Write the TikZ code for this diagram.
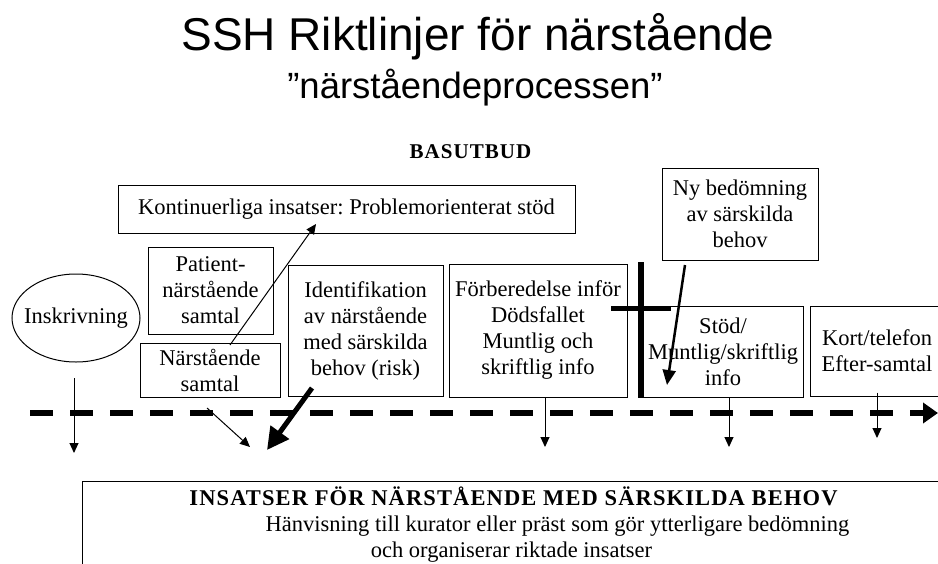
\documentclass[tikz,border=0pt]{standalone}
\usepackage{fontspec}
\setmainfont{Liberation Serif}
\newfontfamily\titlefont{Liberation Sans}
\newfontfamily\capsfont[LetterSpace=5]{Liberation Serif}
\usetikzlibrary{arrows.meta,shapes.geometric}
\newcommand{\bodyfont}{\fontsize{22.5}{26}\selectfont}
\frenchspacing

\begin{document}
\begin{tikzpicture}[x=1pt,y=-1pt]
        \useasboundingbox (0,0) rectangle (938,563);
        \clip (0,0) rectangle (938,563);
        \node[anchor=base] (rubrik) at (478,50) {\titlefont\fontsize{46}{50}\selectfont SSH Riktlinjer för närstående};
        \node[anchor=base] (process) at (475,98) {\titlefont\fontsize{36.5}{40}\selectfont ”närståendeprocessen”};
        \node[anchor=base] (basutbud) at (470.5,158) {\capsfont\bfseries\fontsize{21}{24}\selectfont BASUTBUD};
        \begin{scope}
            \begin{scope}[every node/.style={rectangle,draw,line width=1pt,align=center,inner sep=0pt,font=\bodyfont}]
                \node[minimum width=457pt,minimum height=48pt] (kont) at (346.5,209) {Kontinuerliga insatser: Problemorienterat stöd};
                \node[minimum width=156pt,minimum height=92pt] (ny) at (740,214) {Ny bedömning\\av särskilda\\behov};
                \node[minimum width=125pt,minimum height=87pt] (pat) at (210.5,290.5) {Patient-\\närstående\\samtal};
                \node[minimum width=140pt,minimum height=54pt] (nar) at (210,370) {Närstående\\samtal};
                \node[ellipse,minimum width=128pt,minimum height=88pt] (ins) at (76,318) {\makebox[80pt]{Inskrivning}};
                \node[minimum width=155pt,minimum height=131pt] (iden) at (365.5,330.5) {Identifikation\\av närstående\\med särskilda\\behov (risk)};
                \node[minimum width=178pt,minimum height=133pt] (forb) at (538,330.5) {Förberedelse inför\\Dödsfallet\\Muntlig och\\skriftlig info};
                \node[minimum width=160pt,minimum height=91pt] (stod) at (723,351.5) {Stöd/\\Muntlig/skriftlig\\info};
                \node[minimum width=134pt,minimum height=90pt] (kort) at (877,351) {Kort/telefon\\Efter-samtal};
                \node[anchor=north west,minimum width=900pt,minimum height=140pt] (insbox) at (82,481) {};
            \end{scope}
            \begin{scope}[every node/.style={anchor=base,font=\bodyfont}]
                \node (insrubrik) at (513.5,505) {\capsfont\bfseries INSATSER FÖR NÄRSTÅENDE MED SÄRSKILDA BEHOV};
                \node (hanvisning) at (557.5,531) {Hänvisning till kurator eller präst som gör ytterligare bedömning};
                \node (organiserar) at (511.5,557) {och organiserar riktade insatser};
            \end{scope}
        \end{scope}
        \coordinate (tl0) at (30,413);
        \coordinate (tl1) at (938,413);
        \coordinate (ins1) at (74,378);
        \coordinate (ins2) at (74,453);
        \coordinate (nar1) at (207,408);
        \coordinate (nar2) at (250,447);
        \coordinate (nar3) at (230,345);
        \coordinate (kont1) at (316,224);
        \coordinate (iden1) at (312,388);
        \coordinate (iden2) at (267,450);
        \coordinate (ny1) at (685,265);
        \coordinate (ny2) at (667,385);
        \coordinate (forb1) at (545,447);
        \coordinate (stod1) at (729,447);
        \coordinate (kort1) at (877,438);
        \draw[line width=6pt,dash pattern=on 23pt off 17pt,-{Triangle[length=15pt,width=20pt]}] (tl0) -- (tl1);
        \draw[line width=6pt] (641,262) -- (641,398);
        \draw[line width=5pt] (611,308) -- (671,308);
        \begin{scope}[every edge/.style={draw=black,line width=1pt,-{Triangle[length=10pt,width=9pt]}}]
            \path (ins1) edge (ins2)
                  (nar1) edge (nar2)
                  (nar3) edge (kont1)
                  ([xshift=7pt]forb.south) edge (forb1)
                  ([xshift=6pt]stod.south) edge (stod1)
                  ([yshift=4pt]kort.south) edge (kort1);
        \end{scope}
        \draw[line width=2.5pt,-{Triangle[length=15pt,width=13pt]}] (ny1) -- (ny2);
        \draw[line width=5pt,-{Triangle[length=22pt,width=22pt]}] (iden1) -- (iden2);
    \end{tikzpicture}
\end{document}
